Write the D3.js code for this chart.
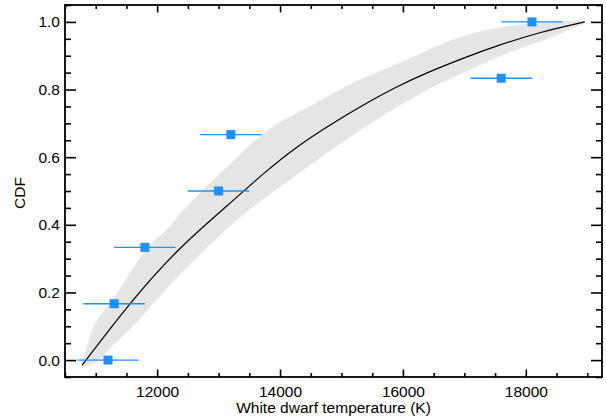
<!DOCTYPE html>
<html><head><meta charset="utf-8">
<script src="https://cdn.jsdelivr.net/npm/d3@7"></script>
<style>
html,body{margin:0;padding:0;background:#fff;}
svg{display:block;font-family:"Liberation Sans",Arial,Helvetica,sans-serif;}
</style></head>
<body>
<script>
// ---- data ----
const obsTemp = [11200, 11300, 11800, 13000, 13200, 17600, 18100];
const obsCdf  = [0, 1/6, 2/6, 3/6, 4/6, 5/6, 1];
const obsErr  = [500, 500, 500, 500, 500, 500, 500];

const modelTemp = [10780, 11540, 12351, 13191, 13732, 14275, 14816, 15357, 15899, 16440, 16982, 17500, 18228, 18958];
const modelCdf  = [-0.015, 0.167, 0.333, 0.464, 0.553, 0.632, 0.696, 0.755, 0.809, 0.854, 0.893, 0.928, 0.970, 1.0];

// envelope of the simulated CDF curves (grey band)
const bandUpperTemp = [10780, 10850, 10970, 11150, 11350, 11701, 11891, 12216, 12433, 12703, 12975, 13245, 13516, 13895, 14437, 15194, 15737, 16224, 16604, 17144, 17686, 18228, 18958];
const bandUpperCdf  = [-0.015, 0.03, 0.099, 0.15, 0.197, 0.296, 0.34, 0.395, 0.444, 0.494, 0.543, 0.588, 0.635, 0.691, 0.745, 0.819, 0.862, 0.900, 0.932, 0.965, 0.986, 0.996, 1.0];
const bandLowerTemp = [11050, 11241, 11594, 11891, 12054, 12433, 12975, 13516, 14166, 14816, 15466, 16007, 16500, 17144, 17686, 18228, 18769];
const bandLowerCdf  = [0.0, 0.039, 0.099, 0.160, 0.192, 0.266, 0.362, 0.448, 0.535, 0.620, 0.700, 0.760, 0.810, 0.864, 0.908, 0.943, 0.982];

const xMajorTicks = [12000, 14000, 16000, 18000];
const yMajorTicks = [0.0, 0.2, 0.4, 0.6, 0.8, 1.0];
const xLabel = "White dwarf temperature (K)";
const yLabel = "CDF";

// ---- layout ----
const W = 606, H = 418;
const L = 65, R = 602, T = 5, B = 377;
const svg = d3.select("body").append("svg").attr("width", W).attr("height", H);

const x = d3.scaleLinear().domain([10500, 19240]).range([L, R]);
const y = d3.scaleLinear().domain([-0.05, 1.05]).range([B, T]);

// grey band
const upper = bandUpperTemp.map((t, i) => [t, bandUpperCdf[i]]);
const lower = bandLowerTemp.map((t, i) => [t, bandLowerCdf[i]]);
const poly = upper.concat(lower.slice().reverse());
svg.append("path")
  .attr("d", d3.line().x(d => x(d[0])).y(d => y(d[1])).curve(d3.curveCatmullRomClosed.alpha(0.5))(poly))
  .attr("fill", "#e5e5e5").attr("stroke", "#e9e9e9").attr("stroke-width", 1);

// model line
const model = modelTemp.map((t, i) => [t, modelCdf[i]]);
svg.append("path")
  .attr("d", d3.line().x(d => x(d[0])).y(d => y(d[1])).curve(d3.curveBasis)(model))
  .attr("fill", "none").attr("stroke", "#000").attr("stroke-width", 1.2);

// observations
const obs = obsTemp.map((t, i) => ({t, c: obsCdf[i], e: obsErr[i]}));
svg.append("g").selectAll("line").data(obs).join("line")
  .attr("x1", d => x(d.t - d.e)).attr("x2", d => x(d.t + d.e))
  .attr("y1", d => y(d.c)).attr("y2", d => y(d.c))
  .attr("stroke", "#1e90ff").attr("stroke-width", 1.3);
svg.append("g").selectAll("rect").data(obs).join("rect")
  .attr("x", d => x(d.t) - 4.5).attr("y", d => y(d.c) - 4.5)
  .attr("width", 9).attr("height", 9).attr("fill", "#1e90ff");

// axes
const xMinor = d3.range(10500, 19241, 500).filter(v => v % 2000 !== 0);
const yMinor = d3.range(-0.05, 1.051, 0.05).map(v => +v.toFixed(2)).filter(v => Math.abs(v*5 - Math.round(v*5)) > 1e-6);

function styleAxis(g) {
  g.select(".domain").remove();
  g.selectAll(".tick line").attr("stroke", "#000").attr("stroke-width", 1.6);
  g.selectAll(".tick text").attr("fill", "#000").style("font-size", "15.5px").style("font-family", '"Liberation Sans",Arial,Helvetica,sans-serif');
}

// bottom
svg.append("g").attr("transform", `translate(0,${B})`)
  .call(d3.axisBottom(x).tickValues(xMajorTicks).tickSize(-7.5).tickPadding(9).tickFormat(d3.format("d")))
  .call(styleAxis);
svg.append("g").attr("transform", `translate(0,${B})`)
  .call(d3.axisBottom(x).tickValues(xMinor).tickSize(-4).tickFormat(""))
  .call(styleAxis);
// top
svg.append("g").attr("transform", `translate(0,${T})`)
  .call(d3.axisTop(x).tickValues(xMajorTicks).tickSize(-7.5).tickFormat(""))
  .call(styleAxis);
svg.append("g").attr("transform", `translate(0,${T})`)
  .call(d3.axisTop(x).tickValues(xMinor).tickSize(-4).tickFormat(""))
  .call(styleAxis);
// left
svg.append("g").attr("transform", `translate(${L},0)`)
  .call(d3.axisLeft(y).tickValues(yMajorTicks).tickSize(-11).tickPadding(5).tickFormat(d3.format(".1f")))
  .call(styleAxis);
svg.append("g").attr("transform", `translate(${L},0)`)
  .call(d3.axisLeft(y).tickValues(yMinor).tickSize(-6).tickFormat(""))
  .call(styleAxis);
// right
svg.append("g").attr("transform", `translate(${R},0)`)
  .call(d3.axisRight(y).tickValues(yMajorTicks).tickSize(-11).tickFormat(""))
  .call(styleAxis);
svg.append("g").attr("transform", `translate(${R},0)`)
  .call(d3.axisRight(y).tickValues(yMinor).tickSize(-6).tickFormat(""))
  .call(styleAxis);

// frame
svg.append("rect").attr("x", L).attr("y", T).attr("width", R - L).attr("height", B - T)
  .attr("fill", "none").attr("stroke", "#000").attr("stroke-width", 1.8);

// titles
svg.append("text").attr("x", (L + R) / 2).attr("y", 412.5).attr("text-anchor", "middle")
  .style("font-size", "15.5px").attr("fill", "#000").text(xLabel);
svg.append("text").attr("transform", `translate(24.5,193) rotate(-90)`).attr("text-anchor", "middle")
  .style("font-size", "15.5px").attr("fill", "#000").text(yLabel);
</script>
</body></html>
